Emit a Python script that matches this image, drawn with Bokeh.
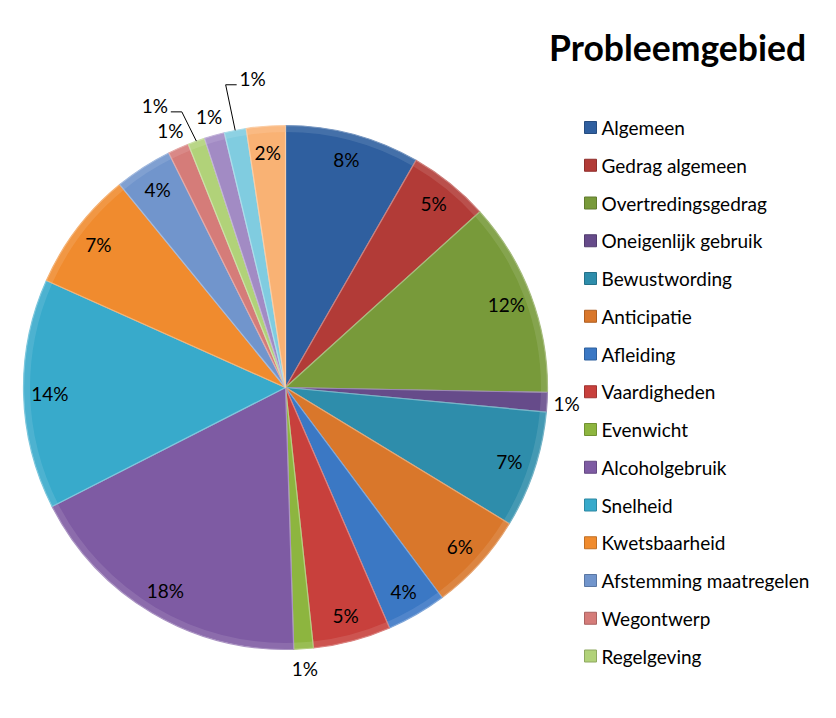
import math
from bokeh.plotting import figure
from bokeh.models import Range1d, Label, ColumnDataSource
from bokeh.core.properties import value
from bokeh.embed import file_html
from bokeh.resources import INLINE

# ---------------- data ----------------
categories = ["Algemeen", "Gedrag algemeen", "Overtredingsgedrag", "Oneigenlijk gebruik",
              "Bewustwording", "Anticipatie", "Afleiding", "Vaardigheden", "Evenwicht",
              "Alcoholgebruik", "Snelheid", "Kwetsbaarheid", "Afstemming maatregelen",
              "Wegontwerp", "Regelgeving", "Handhaving", "Voertuig", "Overig"]
shares = [8.3, 5.0, 12.0, 1.2, 7.2, 6.1, 3.7, 4.8, 1.2, 18.0, 14.2, 7.4, 3.55,
          1.3, 1.05, 1.25, 1.35, 2.4]
chart_title = "Probleemgebied"
legend_count = 15  # the legend box only shows the first 15 entries

# ---------------- style ----------------
palette = ["#2F5F9F", "#B23B37", "#789A3A", "#664B8A", "#2E8DAB", "#D9772B",
           "#3B78C4", "#C8403C", "#8DB53F", "#7E5BA3", "#38AACB", "#F08B2E",
           "#7195CC", "#D57C79", "#B1D279", "#A28BC4", "#80CCE0", "#F9B274"]
FONT = "Lato"
W, H = 836, 718
CX, CY, R = 285, H - 387, 262


def mix(hex_color, other, t):
    c = [int(hex_color[i:i + 2], 16) for i in (1, 3, 5)]
    o = [int(other[i:i + 2], 16) for i in (1, 3, 5)]
    m = [round(a + (b - a) * t) for a, b in zip(c, o)]
    return "#%02x%02x%02x" % tuple(m)


total = sum(shares)
starts, ends, mids = [], [], []
acc = 0.0
for s in shares:
    c0 = acc / total * 360.0
    acc += s
    c1 = acc / total * 360.0
    starts.append(math.radians(90 - c1))
    ends.append(math.radians(90 - c0))
    mids.append((c0 + c1) / 2)

src = ColumnDataSource(dict(
    start=starts, end=ends, color=palette[:len(shares)],
    light=[mix(c, "#ffffff", 0.35) for c in palette[:len(shares)]],
))

p = figure(width=W, height=H, x_range=Range1d(0, W), y_range=Range1d(0, H),
           output_backend="svg", toolbar_location=None, min_border=0,
           x_axis_location=None, y_axis_location=None)
p.grid.visible = False
p.outline_line_color = None
p.background_fill_color = "white"
p.border_fill_color = "white"

p.wedge(x=CX, y=CY, radius=R, start_angle="start", end_angle="end",
        fill_color="color", line_color="light", line_width=1.2, source=src)
# subtle bevel-like rim
p.annular_wedge(x=CX, y=CY, inner_radius=R * 0.975, outer_radius=R,
                start_angle="start", end_angle="end", fill_color="light",
                fill_alpha=0.3, line_color=None, source=src)

# ---------------- slice labels ----------------
pcts = [round(s / total * 100) for s in shares]
small = [s / total * 100 < 1.5 for s in shares]
factor = [0.9] * len(shares)
angle = list(mids)
far = [False] * len(shares)
i = 0
while i < len(shares):
    if small[i]:
        j = i
        while j < len(shares) and small[j]:
            j += 1
        run = list(range(i, j))
        centre = sum(mids[k] for k in run) / len(run)
        for n, k in enumerate(run):
            if n % 2 == 0:
                factor[k] = 1.075
            else:
                factor[k] = 1.185
                far[k] = True
                angle[k] = mids[k] + (5 if mids[k] > centre else -5)
        i = j
    else:
        i += 1

lx = [CX + R * f * math.sin(math.radians(a)) for f, a in zip(factor, angle)]
ly = [CY + R * f * math.cos(math.radians(a)) for f, a in zip(factor, angle)]
p.text(x=lx, y=ly, text=[f"{v}%" for v in pcts], text_align="center",
       text_baseline="middle", text_font=value(FONT), text_font_size="19px",
       text_color="black")

# leader lines for far labels
xs, ys = [], []
for k in range(len(shares)):
    if far[k]:
        ax = CX + R * math.sin(math.radians(mids[k]))
        ay = CY + R * math.cos(math.radians(mids[k]))
        side = 1 if ax > lx[k] else -1
        yy = ly[k] - 6
        xs.append([ax, lx[k] + side * 27, lx[k] + side * 16])
        ys.append([ay, yy, yy])
p.multi_line(xs=xs, ys=ys, line_color="black", line_width=1)

# ---------------- legend ----------------
leg_y = [H - (127 + n * 37.75) for n in range(legend_count)]
p.rect(x=[590] * legend_count, y=leg_y, width=12, height=12,
       fill_color=palette[:legend_count],
       line_color=[mix(c, "#000000", 0.2) for c in palette[:legend_count]], line_width=1)
p.text(x=[601] * legend_count, y=leg_y, text=categories[:legend_count],
       text_align="left", text_baseline="middle", text_font=value(FONT),
       text_font_size="19px", text_color="black")

# ---------------- title ----------------
p.add_layout(Label(x=677, y=H - 47, text=chart_title, text_align="center",
                   text_baseline="middle", text_font=FONT, text_font_style="bold",
                   text_font_size="35.5px", text_color="black"))

open("out.html", "w").write(file_html(p, INLINE))
